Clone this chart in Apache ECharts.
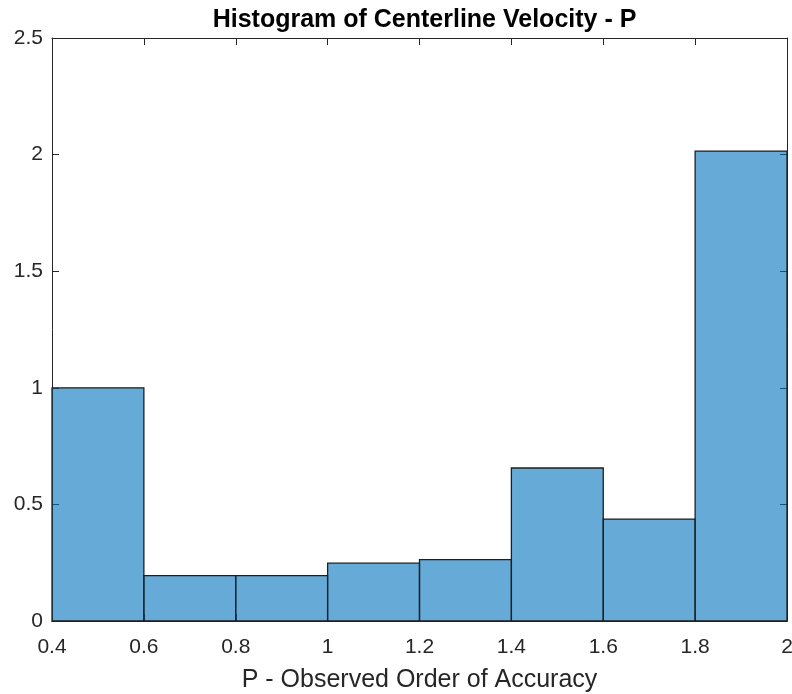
<!DOCTYPE html>
<html>
<head>
<meta charset="utf-8">
<script src="https://cdn.jsdelivr.net/npm/echarts@6/dist/echarts.min.js"></script>
<style>
  html, body { margin: 0; padding: 0; background: #fff; }
  #chart { width: 792px; height: 694px; }
</style>
</head>
<body>
<div id="chart"></div>
<script>
// Histogram bin edges and the bar height of each bin
const binEdges = [0.4, 0.6, 0.8, 1.0, 1.2, 1.4, 1.6, 1.8, 2.0];
const binValues = [1.0, 0.195, 0.195, 0.248, 0.263, 0.656, 0.437, 2.015];

const xTicks = [0.4, 0.6, 0.8, 1, 1.2, 1.4, 1.6, 1.8, 2];
const yTicks = [0, 0.5, 1, 1.5, 2, 2.5];

const titleText = 'Histogram of Centerline Velocity - P';
const xLabel = 'P - Observed Order of Accuracy';

const FONT = '"Liberation Sans", Arial, Helvetica, sans-serif';
const AXIS_COLOR = '#262626';

const bins = binValues.map((v, i) => [binEdges[i], binEdges[i + 1], v]);

const chart = echarts.init(document.getElementById('chart'), null, { renderer: 'canvas' });

const baseAxis = {
  type: 'value',
  axisLine: { show: true, onZero: false, lineStyle: { color: AXIS_COLOR, width: 1 } },
  axisTick: { show: true, inside: true, length: 7, lineStyle: { color: AXIS_COLOR, width: 1 } },
  splitLine: { show: false },
  minorTick: { show: false }
};

chart.setOption({
  animation: false,
  backgroundColor: '#ffffff',
  title: {
    text: titleText,
    left: 419.5,
    top: 3,
    textAlign: 'center',
    textStyle: { fontFamily: FONT, fontSize: 25, fontWeight: 'bold', color: '#000000' }
  },
  grid: { left: 52, right: 5, top: 38, bottom: 73, outerBoundsMode: 'none', containLabel: false },
  xAxis: [
    Object.assign({}, baseAxis, {
      position: 'bottom',
      min: xTicks[0], max: xTicks[xTicks.length - 1], interval: 0.2,
      name: xLabel,
      nameLocation: 'middle',
      nameGap: 47,
      nameTextStyle: { fontFamily: FONT, fontSize: 25, color: AXIS_COLOR },
      axisLabel: {
        show: true, margin: 16, fontFamily: FONT, fontSize: 21, color: AXIS_COLOR,
        formatter: v => String(+v.toFixed(1))
      }
    }),
    Object.assign({}, baseAxis, {
      position: 'top',
      min: xTicks[0], max: xTicks[xTicks.length - 1], interval: 0.2,
      axisLabel: { show: false }
    })
  ],
  yAxis: [
    Object.assign({}, baseAxis, {
      position: 'left',
      min: yTicks[0], max: yTicks[yTicks.length - 1], interval: 0.5,
      axisLabel: {
        show: true, margin: 9, fontFamily: FONT, fontSize: 21, color: AXIS_COLOR,
        formatter: v => String(+v.toFixed(1))
      }
    }),
    Object.assign({}, baseAxis, {
      position: 'right',
      min: yTicks[0], max: yTicks[yTicks.length - 1], interval: 0.5,
      axisLabel: { show: false }
    })
  ],
  series: [{
    type: 'custom',
    xAxisIndex: 0,
    yAxisIndex: 0,
    encode: { x: [0, 1], y: 2 },
    data: bins,
    renderItem: (params, api) => {
      const topLeft = api.coord([api.value(0), api.value(2)]);
      const bottomRight = api.coord([api.value(1), 0]);
      return {
        type: 'rect',
        shape: {
          x: topLeft[0],
          y: topLeft[1],
          width: bottomRight[0] - topLeft[0],
          height: bottomRight[1] - topLeft[1]
        },
        style: {
          fill: 'rgba(0, 114, 189, 0.6)',
          stroke: '#1f1f1f',
          lineWidth: 1.3
        }
      };
    }
  }]
});
</script>
</body>
</html>
